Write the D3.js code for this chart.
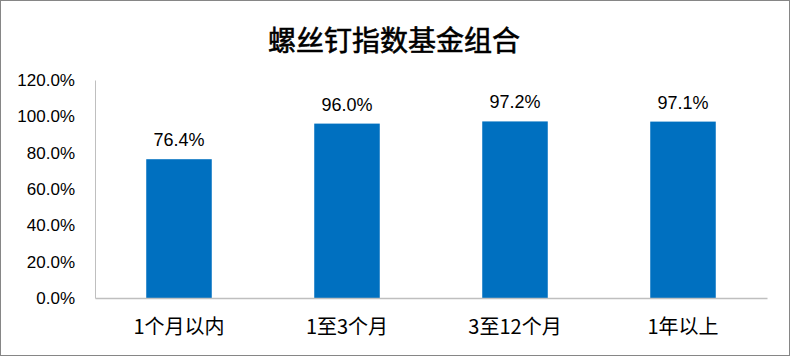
<!DOCTYPE html>
<html>
<head>
<meta charset="utf-8">
<script src="https://cdn.jsdelivr.net/npm/d3@7"></script>
<style>
  html, body { margin: 0; padding: 0; background: #fff; }
  svg text { font-family: "Liberation Sans", "Noto Sans CJK SC", sans-serif; }
</style>
</head>
<body>
<div id="chart"></div>
<script>
const title = '螺丝钉指数基金组合'
const categories = ['1个月以内', '1至3个月', '3至12个月', '1年以上']
const values = [0.764, 0.960, 0.972, 0.971]
const yTicks = [0, 0.2, 0.4, 0.6, 0.8, 1.0, 1.2]

const W = 790, H = 356
const margin = { top: 80, right: 23, bottom: 58, left: 95 }
const width = W - margin.left - margin.right
const height = H - margin.top - margin.bottom

const svg = d3.select('#chart')
  .append('svg')
  .attr('width', W)
  .attr('height', H)

// outer frame
svg.append('rect')
  .attr('x', 0.5).attr('y', 0.5)
  .attr('width', W - 1).attr('height', H - 1)
  .attr('fill', '#fff')
  .attr('stroke', '#868686')

svg.append('text')
  .attr('x', 394)
  .attr('y', 51)
  .attr('text-anchor', 'middle')
  .attr('font-size', 28)
  .attr('fill', '#000')
  .attr('stroke', '#000')
  .attr('stroke-width', 0.6)
  .style('font-family', '"Noto Sans CJK SC", sans-serif')
  .text(title)

const chart = svg.append('g')
  .attr('transform', `translate(${margin.left}, ${margin.top})`)

const x = d3.scaleBand()
  .domain(categories)
  .range([0, width])
  .paddingInner(0.61)
  .paddingOuter(0.305)

const y = d3.scaleLinear()
  .domain([0, 1.2])
  .range([height, 0])

// bars
chart.selectAll('.bar')
  .data(values)
  .enter().append('rect')
  .attr('class', 'bar')
  .attr('x', (d, i) => x(categories[i]))
  .attr('y', d => y(d))
  .attr('width', x.bandwidth())
  .attr('height', d => height - y(d))
  .attr('fill', '#0070C0')

// value labels
chart.selectAll('.val')
  .data(values)
  .enter().append('text')
  .attr('class', 'val')
  .attr('x', (d, i) => x(categories[i]) + x.bandwidth() / 2)
  .attr('y', d => y(d) - 13)
  .attr('text-anchor', 'middle')
  .attr('font-size', 18)
  .attr('fill', '#000')
  .text(d => d3.format('.1%')(d))

// y axis
const yAxis = chart.append('g')
  .attr('class', 'axis axis-y')
  .call(d3.axisLeft(y).tickValues(yTicks).tickFormat(d3.format('.1%')).tickSize(0).tickPadding(20))
yAxis.select('.domain').attr('stroke', '#bfbfbf')
yAxis.selectAll('text').attr('font-size', 17).attr('fill', '#000')
  .style('font-family', '"Liberation Sans", sans-serif')

// x axis
const xAxis = chart.append('g')
  .attr('class', 'axis axis-x')
  .attr('transform', `translate(0, ${height})`)
  .call(d3.axisBottom(x).tickSize(0).tickPadding(22))
xAxis.select('.domain').attr('stroke', '#bfbfbf').attr('stroke-width', 1.5)
xAxis.selectAll('text').attr('font-size', 20).attr('fill', '#000')
  .style('font-family', '"Noto Sans CJK SC", sans-serif')
</script>
</body>
</html>
